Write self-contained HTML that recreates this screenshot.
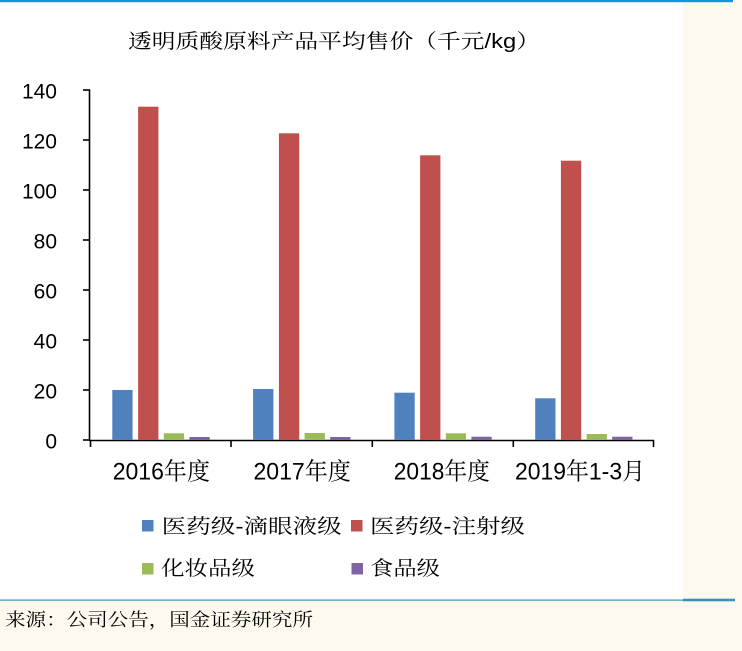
<!DOCTYPE html>
<html><head><meta charset="utf-8"><style>
html,body{margin:0;padding:0;background:#fdf9ee;}
svg{display:block;}
text{font-family:"Liberation Sans","Noto Serif CJK SC",serif;fill:#000;}
.cjk{font-family:"Liberation Sans","Noto Serif CJK SC",serif;}
.num{font-family:"Liberation Sans","Noto Sans CJK SC",sans-serif;}
</style></head><body>
<svg width="742" height="651" viewBox="0 0 742 651" xmlns="http://www.w3.org/2000/svg">
<rect x="0" y="0" width="742" height="651" fill="#fdf9ee"/>
<rect x="0" y="2" width="683" height="598" fill="#ffffff"/>
<rect x="0" y="0" width="733" height="2.2" fill="#0a9ad8"/>
<rect x="0" y="599.5" width="683" height="1.2" fill="#3a8fbd"/>
<rect x="683" y="598.7" width="52" height="2.6" fill="#3a8fbd"/>

<text class="cjk" x="128" y="48" font-size="20" textLength="412" lengthAdjust="spacingAndGlyphs">透明质酸原料产品平均售价（千元/kg）</text>

<!-- y axis -->
<g stroke="#000" stroke-width="1.6" fill="none">
<line x1="89.5" y1="89.5" x2="89.5" y2="440.5"/>
<line x1="83" y1="90" x2="90" y2="90"/>
<line x1="83" y1="140" x2="90" y2="140"/>
<line x1="83" y1="190" x2="90" y2="190"/>
<line x1="83" y1="240" x2="90" y2="240"/>
<line x1="83" y1="290" x2="90" y2="290"/>
<line x1="83" y1="340" x2="90" y2="340"/>
<line x1="83" y1="390" x2="90" y2="390"/>
<line x1="83" y1="440" x2="90" y2="440"/>
<line x1="89" y1="440.5" x2="654" y2="440.5"/>
<line x1="90.5" y1="440" x2="90.5" y2="447"/>
<line x1="231" y1="440" x2="231" y2="447"/>
<line x1="372.3" y1="440" x2="372.3" y2="447"/>
<line x1="513.3" y1="440" x2="513.3" y2="447"/>
<line x1="653.5" y1="440" x2="653.5" y2="447"/>
</g>
<g class="num" font-size="21" text-anchor="end">
<text x="57" y="98.5">140</text>
<text x="57" y="148.5">120</text>
<text x="57" y="198.5">100</text>
<text x="57" y="248.5">80</text>
<text x="57" y="298.5">60</text>
<text x="57" y="348.5">40</text>
<text x="57" y="398.5">20</text>
<text x="57" y="448.5">0</text>
</g>

<!-- bars -->
<g>
<rect x="112.3" y="390" width="20.3" height="50" fill="#4f81bd"/>
<rect x="138.1" y="106.7" width="20.3" height="333.3" fill="#c0504d"/>
<rect x="163.8" y="433.3" width="20.3" height="6.7" fill="#9bbb59"/>
<rect x="189.4" y="437" width="20.3" height="3" fill="#8064a2"/>
<rect x="253.1" y="389" width="20.3" height="51" fill="#4f81bd"/>
<rect x="278.9" y="133.3" width="20.3" height="306.7" fill="#c0504d"/>
<rect x="304.6" y="433" width="20.3" height="7" fill="#9bbb59"/>
<rect x="330.2" y="437" width="20.3" height="3" fill="#8064a2"/>
<rect x="394.4" y="392.7" width="20.3" height="47.3" fill="#4f81bd"/>
<rect x="420.1" y="155.3" width="20.3" height="284.7" fill="#c0504d"/>
<rect x="445.8" y="433.3" width="20.3" height="6.7" fill="#9bbb59"/>
<rect x="471.4" y="436.7" width="20.3" height="3.3" fill="#8064a2"/>
<rect x="535.2" y="398.3" width="20.3" height="41.7" fill="#4f81bd"/>
<rect x="560.9" y="160.7" width="20.3" height="279.3" fill="#c0504d"/>
<rect x="586.6" y="434" width="20.3" height="6" fill="#9bbb59"/>
<rect x="612.2" y="436.7" width="20.3" height="3.3" fill="#8064a2"/>
</g>

<!-- x labels -->
<g font-size="24">
<text x="112.7" y="479.5" textLength="97.3" lengthAdjust="spacingAndGlyphs">2016年度</text>
<text x="253.5" y="479.5" textLength="97.3" lengthAdjust="spacingAndGlyphs">2017年度</text>
<text x="393.8" y="479.5" textLength="96" lengthAdjust="spacingAndGlyphs">2018年度</text>
<text x="515" y="479.5" textLength="130" lengthAdjust="spacingAndGlyphs">2019年1-3月</text>
</g>

<!-- legend -->
<rect x="142" y="520" width="11.5" height="11.5" fill="#4f81bd"/>
<rect x="351" y="520" width="11.5" height="11.5" fill="#c0504d"/>
<rect x="142" y="563" width="11.5" height="11.5" fill="#9bbb59"/>
<rect x="351.5" y="563" width="11.5" height="11.5" fill="#8064a2"/>
<g font-size="20">
<text x="161.7" y="533" textLength="180" lengthAdjust="spacingAndGlyphs">医药级-滴眼液级</text>
<text x="370" y="533" textLength="155" lengthAdjust="spacingAndGlyphs">医药级-注射级</text>
<text x="161" y="575" textLength="94" lengthAdjust="spacingAndGlyphs">化妆品级</text>
<text x="370" y="575" textLength="70" lengthAdjust="spacingAndGlyphs">食品级</text>
</g>

<text x="5" y="626" font-size="18" textLength="308" lengthAdjust="spacingAndGlyphs" fill="#111">来源：公司公告，国金证券研究所</text>
</svg>
</body></html>
